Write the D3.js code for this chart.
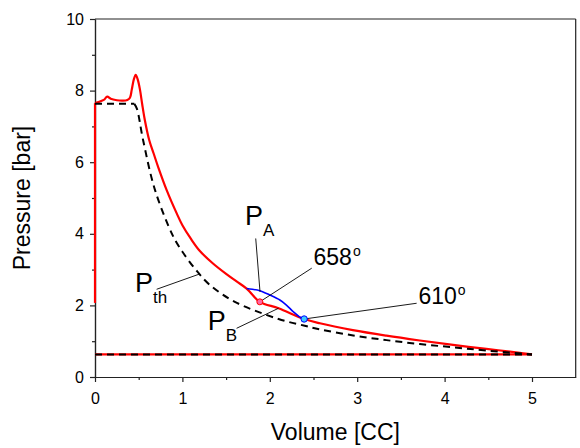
<!DOCTYPE html>
<html>
<head>
<meta charset="utf-8">
<script src="https://cdn.jsdelivr.net/npm/d3@7"></script>
<style>
  body { margin: 0; background: #fff; }
  svg { font-family: "Liberation Sans", Arial, sans-serif; }
  .axis path, .axis line { stroke: #222; stroke-width: 1.2; }
  .axis text { font-size: 16px; fill: #000; }
  .axistext { font-size: 23px; fill: #000; }
  .note { fill: #000; }
</style>
</head>
<body>
<div id="chart"></div>
<script>
// measured cylinder pressure (red)
var redV = [0, 0.05, 0.1, 0.14, 0.18, 0.25, 0.32, 0.37, 0.40, 0.42, 0.445, 0.466, 0.49, 0.515, 0.54, 0.57, 0.62, 0.67, 0.725, 0.82, 0.935, 1.0, 1.1, 1.2, 1.35, 1.5, 1.62, 1.735, 1.886, 2.1, 2.393, 2.573, 2.95, 3.335, 3.716, 4.097, 4.478, 4.86, 5.0];
var redP = [7.65, 7.69, 7.74, 7.83, 7.77, 7.73, 7.72, 7.74, 7.8, 8.02, 8.32, 8.44, 8.3, 8.02, 7.62, 7.18, 6.62, 6.25, 5.85, 5.22, 4.57, 4.24, 3.85, 3.52, 3.17, 2.88, 2.67, 2.47, 2.10, 1.92, 1.62, 1.50, 1.31, 1.155, 1.02, 0.895, 0.785, 0.675, 0.63];
var redRiseV = [0, 0];
var redRiseP = [2.07, 7.65];
var baseV = [0, 5.0];
var baseP = [0.63, 0.63];

// theoretical pressure P_th (dashed)
var thFlatV = [0, 0.45];
var thFlatP = [7.63, 7.63];
var thV = [0.45, 0.48, 0.55, 0.687, 0.896, 1.0, 1.155, 1.315, 1.6, 2.1, 2.4, 2.573, 2.954, 3.335, 3.716, 4.097, 4.478, 5.0];
var thP = [7.63, 7.49, 6.62, 5.22, 3.92, 3.5, 2.99, 2.57, 2.1, 1.62, 1.43, 1.33, 1.16, 1.03, 0.92, 0.83, 0.74, 0.63];

// P_A branch (blue)
var blueV = [1.735, 1.8, 1.886, 2.0, 2.115, 2.19, 2.27, 2.34, 2.393];
var blueP = [2.47, 2.45, 2.41, 2.29, 2.15, 2.01, 1.82, 1.68, 1.62];

var xTicks = [0, 1, 2, 3, 4, 5];
var xMinor = [0.5, 1.5, 2.5, 3.5, 4.5];
var yTicks = [0, 2, 4, 6, 8, 10];
var yMinor = [1, 3, 5, 7, 9];

var margin = {top: 19, right: 4.3, bottom: 71, left: 95},
    width = 580 - margin.left - margin.right,
    height = 448 - margin.top - margin.bottom;

var x = d3.scaleLinear().domain([0, 5.5]).range([0, width]);
var y = d3.scaleLinear().domain([0, 10]).range([height, 0]);

var svg = d3.select("#chart").append("svg")
    .attr("width", 580)
    .attr("height", 448)
    .append("g")
    .attr("transform", "translate(" + margin.left + "," + margin.top + ")");

function pts(vs, ps) {
    return vs.map(function (v, i) { return [v, ps[i]]; });
}

// axes
svg.append("g")
    .attr("class", "axis")
    .attr("transform", "translate(0," + height + ")")
    .call(d3.axisBottom(x).tickValues(xTicks).tickFormat(d3.format("d")).tickSize(5).tickSizeOuter(0).tickPadding(11));
svg.append("g")
    .attr("class", "axis")
    .attr("transform", "translate(0," + height + ")")
    .call(d3.axisBottom(x).tickValues(xMinor).tickFormat("").tickSize(3).tickSizeOuter(0));
svg.append("g")
    .attr("class", "axis")
    .call(d3.axisLeft(y).tickValues(yTicks).tickFormat(d3.format("d")).tickSize(5).tickSizeOuter(0).tickPadding(6));
svg.append("g")
    .attr("class", "axis")
    .call(d3.axisLeft(y).tickValues(yMinor).tickFormat("").tickSize(3).tickSizeOuter(0));

// box top / right
svg.append("line").attr("x1", 0).attr("x2", width).attr("y1", 0).attr("y2", 0)
    .style("stroke", "#222").style("stroke-width", 1.2);
svg.append("line").attr("x1", width).attr("x2", width).attr("y1", 0).attr("y2", height)
    .style("stroke", "#222").style("stroke-width", 1.2);

// axis titles
svg.append("text")
    .attr("class", "axistext")
    .attr("text-anchor", "middle")
    .attr("x", width / 2)
    .attr("y", height + 63)
    .text("Volume [CC]");
svg.append("text")
    .attr("class", "axistext")
    .attr("text-anchor", "middle")
    .attr("transform", "rotate(-90)")
    .attr("x", -height / 2)
    .attr("y", -65)
    .text("Pressure [bar]");

var smooth = d3.line()
    .x(function (d) { return x(d[0]); })
    .y(function (d) { return y(d[1]); })
    .curve(d3.curveCatmullRom.alpha(0.5));
var straight = d3.line()
    .x(function (d) { return x(d[0]); })
    .y(function (d) { return y(d[1]); });

// red measured curve
[[straight, pts(redRiseV, redRiseP)], [smooth, pts(redV, redP)], [straight, pts(baseV, baseP)]].forEach(function (s) {
    svg.append("path")
        .datum(s[1])
        .attr("d", s[0])
        .style("fill", "none")
        .style("stroke", "#ff0000")
        .style("stroke-width", 2.2);
});

// blue branch
svg.append("path")
    .datum(pts(blueV, blueP))
    .attr("d", smooth)
    .style("fill", "none")
    .style("stroke", "#0000ff")
    .style("stroke-width", 1.6);

// dashed theoretical
[[straight, pts(thFlatV, thFlatP)], [smooth, pts(thV, thP)], [straight, pts(baseV, baseP)]].forEach(function (s) {
    svg.append("path")
        .datum(s[1])
        .attr("d", s[0])
        .style("fill", "none")
        .style("stroke", "#000")
        .style("stroke-width", 2)
        .style("stroke-dasharray", "7,5");
});

// pointer lines
var pointers = [
    [[0.705, 2.45], [1.2, 2.88]],
    [[1.839, 3.87], [1.888, 2.38]],
    [[2.48, 3.04], [1.886, 2.10]],
    [[1.62, 1.36], [2.10, 1.92]],
    [[3.68, 2.06], [2.393, 1.62]]
];
pointers.forEach(function (p) {
    svg.append("line")
        .attr("x1", x(p[0][0])).attr("y1", y(p[0][1]))
        .attr("x2", x(p[1][0])).attr("y2", y(p[1][1]))
        .style("stroke", "#000")
        .style("stroke-width", 0.9);
});

// marked points
svg.append("circle")
    .attr("cx", x(1.886)).attr("cy", y(2.10)).attr("r", 3)
    .style("fill", "#ff66a3").style("stroke", "#ff0000").style("stroke-width", 1);
svg.append("circle")
    .attr("cx", x(2.393)).attr("cy", y(1.62)).attr("r", 3.2)
    .style("fill", "#3cc8ff").style("stroke", "#0000ff").style("stroke-width", 1);

// labels with subscripts
function subLabel(v, p, main, sub) {
    var t = svg.append("text").attr("class", "note")
        .attr("x", x(v)).attr("y", y(p));
    t.append("tspan").style("font-size", "27px").text(main);
    t.append("tspan").style("font-size", "17px").attr("dy", 11).text(sub);
}
subLabel(1.716, 4.25, "P", "A");
subLabel(0.458, 2.38, "P", "th");
subLabel(1.29, 1.31, "P", "B");

// angle labels
function angleLabel(v, p, txt) {
    var t = svg.append("text").attr("class", "note")
        .attr("x", x(v)).attr("y", y(p));
    t.append("tspan").style("font-size", "23px").text(txt);
    t.append("tspan").style("font-size", "14px").attr("dx", 1).attr("dy", -9).text("o");
}
angleLabel(2.5, 3.13, "658");
angleLabel(3.7, 2.03, "610");
</script>
</body>
</html>
